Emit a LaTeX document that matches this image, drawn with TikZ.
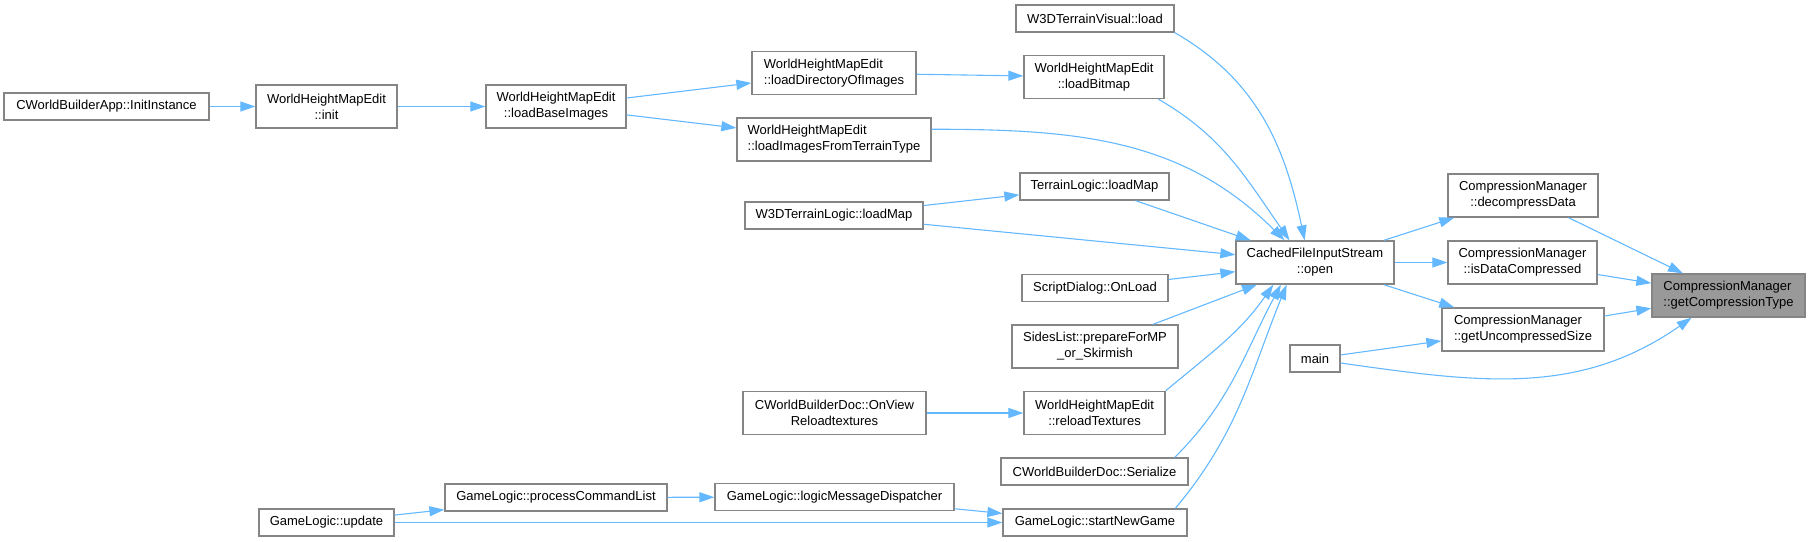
\documentclass[tikz,border=0pt]{standalone}
\usepackage{fontspec}
\setmainfont{Liberation Sans}
\usetikzlibrary{arrows.meta}
\definecolor{edgeblue}{HTML}{63B8FF}
\definecolor{boxgray}{HTML}{858585}
\definecolor{rootfill}{HTML}{999999}

\begin{document}
\begin{tikzpicture}[
  x=1pt, y=1pt,
  every node/.style={font=\fontsize{13}{16}\selectfont},
  fn/.style={draw=boxgray, line width=1.3pt, fill=white, inner sep=0pt, align=center},
  fnl/.style={fn, align=left},
  one/.style={minimum height=27},
  two/.style={minimum height=43},
  root/.style={fnl, two, fill=rootfill},
  call/.style={draw=edgeblue, line width=1.1pt, -{Triangle[length=15pt,width=10pt]}}
]
\path[use as bounding box] (0,0) rectangle (1809,-541);
%% first column
\node[fn, one, minimum width=205] (ii) at (106.5,-106.5) {CWorldBuilderApp::InitInstance};
\node[fn, two, minimum width=141] (init) at (326.5,-106.5) {WorldHeightMapEdit\\::init};
\node[fn, one, minimum width=135] (upd) at (326.5,-522.5) {GameLogic::update};
\node[fn, two, minimum width=140] (lbi) at (556,-106.5) {WorldHeightMapEdit\\::loadBaseImages};
\node[fn, one, minimum width=222] (pcl) at (556,-497.5) {GameLogic::processCommandList};
%% middle column
\node[fnl, two, minimum width=164] (ldi) at (834,-73) {WorldHeightMapEdit\\::loadDirectoryOfImages};
\node[fnl, two, minimum width=194] (lift) at (834,-139.5) {WorldHeightMapEdit\\::loadImagesFromTerrainType};
\node[fn, one, minimum width=178] (wtlm) at (834,-215.5) {W3DTerrainLogic::loadMap};
\node[fn, two, minimum width=183] (ovr) at (834.5,-413) {CWorldBuilderDoc::OnView\\Reloadtextures};
\node[fn, one, minimum width=239] (lmd) at (834.5,-497) {GameLogic::logicMessageDispatcher};
%% callers of open
\node[fn, one, minimum width=158] (tvl) at (1095,-18.5) {W3DTerrainVisual::load};
\node[fn, two, minimum width=140] (lbm) at (1094,-77) {WorldHeightMapEdit\\::loadBitmap};
\node[fn, one, minimum width=149] (tlm) at (1094.5,-186.5) {TerrainLogic::loadMap};
\node[fn, one, minimum width=146] (sdol) at (1095,-288) {ScriptDialog::OnLoad};
\node[fn, two, minimum width=166] (slp) at (1095,-346.5) {SidesList::prepareForMP\\\_or\_Skirmish};
\node[fn, two, minimum width=141] (rlt) at (1094.5,-413) {WorldHeightMapEdit\\::reloadTextures};
\node[fn, one, minimum width=187] (ser) at (1094.5,-471.5) {CWorldBuilderDoc::Serialize};
\node[fn, one, minimum width=184] (sng) at (1095,-522.5) {GameLogic::startNewGame};
%% right part
\node[fn, two, minimum width=158] (open) at (1315,-262.5) {CachedFileInputStream\\::open};
\node[fn, one, minimum width=50] (main) at (1315,-358.5) {main};
\node[fn, two, minimum width=150] (dcd) at (1523,-195.5) {CompressionManager\\::decompressData};
\node[fn, two, minimum width=149] (idc) at (1522.5,-262.5) {CompressionManager\\::isDataCompressed};
\node[fnl, two, minimum width=162] (gus) at (1523,-329.5) {CompressionManager\\::getUncompressedSize};
\node[root, minimum width=153] (gct) at (1728.5,-295.5) {CompressionManager\\::getCompressionType};
%% calls
\draw[call] (ii) -- (init);
\draw[call] (init) -- (lbi);
\draw[call] (lbi) -- (ldi);
\draw[call] (lbi) -- (lift);
\draw[call] (ldi) -- (lbm);
\draw[call] (wtlm) -- (tlm);
\draw[call] (ovr) -- (rlt);
\draw[call] (upd) -- (pcl);
\draw[call] (upd) -- (sng);
\draw[call] (pcl) -- (lmd);
\draw[call] (lmd) -- (sng);
%% into open
\draw[call] (tvl.-10) to[out=-30, in=102] (open.115);
\draw[call] (lbm.-19) to[out=-30, in=125] (open.139);
\draw[call] (lift.6) to[out=0, in=135] (open.144);
\draw[call] (tlm) -- (open);
\draw[call] (wtlm) -- (open);
\draw[call] (sdol) -- (open);
\draw[call] (slp) -- (open);
\draw[call] (rlt.north east) to[out=40, in=-125] (open.-152);
\draw[call] (ser.10) to[out=45, in=-118] (open.-147);
\draw[call] (sng.10) to[out=50, in=-112] (open.-142);
%% out of open
\draw[call] (open) -- (dcd);
\draw[call] (open) -- (idc);
\draw[call] (open) -- (gus);
\draw[call] (main) -- (gus);
\draw[call] (main.-10) to[out=-8, in=-145] (gct.-149);
\draw[call] (dcd) -- (gct);
\draw[call] (idc) -- (gct);
\draw[call] (gus) -- (gct);
\end{tikzpicture}
\end{document}
